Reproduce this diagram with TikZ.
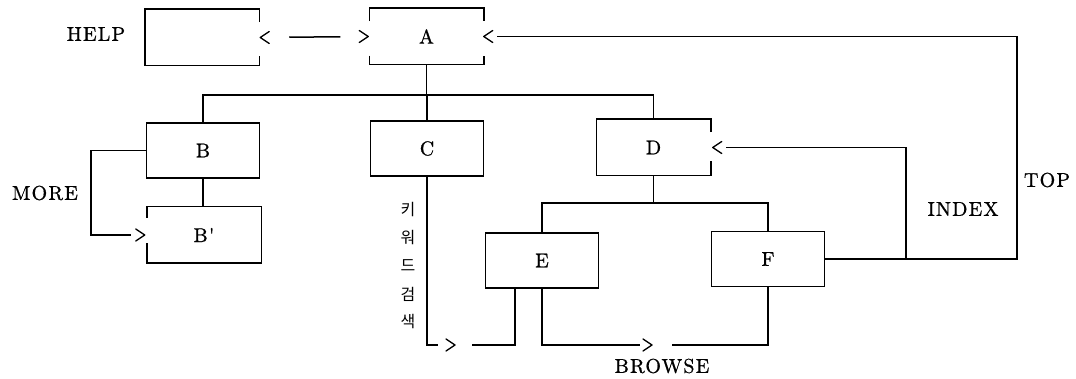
\documentclass[tikz,border=0pt]{standalone}
\usepackage{fontspec}
\newfontfamily\krfont{Noto Sans CJK KR}
\newfontfamily\lblfont{lmroman10-regular.otf}[LetterSpace=6, FakeBold=0.8]

% box outline open on the right side (arg 2/3: lengths of the top/bottom stubs)
\newcommand\outlineR[3]{\draw ([yshift=-#2]#1.north east) -- (#1.north east) -- (#1.north west) -- (#1.south west) -- (#1.south east) -- ([yshift=#3]#1.south east);}
% box outline open on the left side
\newcommand\outlineL[3]{\draw ([yshift=-#2]#1.north west) -- (#1.north west) -- (#1.north east) -- (#1.south east) -- (#1.south west) -- ([yshift=#3]#1.south west);}
% box outline open on both sides
\newcommand\outlineLR[3]{%
  \draw ([yshift=-#2]#1.north west) -- (#1.north west) -- (#1.north east) -- ([yshift=-#2]#1.north east);
  \draw ([yshift=#3]#1.south west) -- (#1.south west) -- (#1.south east) -- ([yshift=#3]#1.south east);}

\begin{document}
\begin{tikzpicture}[x=1pt, y=-1pt, line width=1.5pt,
  txt/.style={font=\lblfont\fontsize{20}{22}\selectfont, inner sep=0pt},
  kr/.style={font=\krfont\fontsize{16}{16}\selectfont, inner sep=0pt},
  box/.style={txt, minimum width=113pt, minimum height=55pt},
  framed/.style={box, draw},
  % open chevrons that sit in front of a box side
  chevL/.pic={\draw[line cap=round, line join=round, line width=1.3pt] (9,-6) -- (0,0) -- (9,6);},
  chevR/.pic={\draw[line cap=round, line join=round, line width=1.3pt] (-9,-6) -- (0,0) -- (-9,6);}]

\useasboundingbox (0,0) rectangle (1076,379);

% screens
\node[box]    (help) at (202,37.5)   {};
\node[box]    (A)    at (426.5,36.5) {A};
\node[framed] (B)    at (203,150.5)  {B};
\node[box]    (Bp)   at (204,235)    {B'};
\node[framed] (C)    at (427,148.5)  {C};
\node[box]    (D)    at (653.5,147.5){D};
\node[framed] (E)    at (542,260.5)  {E};
\node[framed] (F)    at (768,259)    {F};

\outlineR{help}{13pt}{10pt}
\outlineLR{A}{13pt}{9pt}
\outlineL{Bp}{11pt}{20pt}
\outlineR{D}{13pt}{15pt}

% labels
\node[txt] (helpl)   at (96,34)   {HELP};
\node[txt] (morel)   at (45,193)  {MORE};
\node[txt] (topl)    at (1047,180){TOP};
\node[txt] (indexl)  at (963,209) {INDEX};
\node[txt] (browsel) at (662,366) {BROWSE};
\foreach \ch [count=\i] in {키,워,드,검,색}
  \node[kr] (kw\i) at (408,182+28*\i) {\ch};

% helper coordinates
\coordinate (bus)  at (0,95);
\coordinate (bus2) at (0,203);
\coordinate (topx) at (1017,0);
\coordinate (idx)  at (906,0);
\coordinate (kwa)  at (455,345);
\coordinate (kwb)  at (472,345);
\coordinate (bra)  at (652,345);
\coordinate (brb)  at (672,345);

% hierarchy
\draw (A.south) -- (A.south |- bus);
\draw (B.north) |- (D.north |- bus) -- (D.north);
\draw (C.north) -- (C.north |- bus);
\draw (B.south) -- (B.south |- Bp.north);
\draw (D.south) -- (D.south |- bus2);
\draw (E.north) |- (F.north |- bus2) -- (F.north);

% HELP <-> A
\draw[shorten <=29pt, shorten >=28pt] ([xshift=1pt]help.east) -- ([xshift=-1pt]A.west);
\pic at ([xshift=1pt]help.east) {chevL};
\pic at ([xshift=-1pt]A.west) {chevR};
% MORE
\draw[shorten >=14pt] (B.west) -- ++(-55,0) |- ([xshift=-2pt]Bp.west);
\pic at ([xshift=-2pt]Bp.west) {chevR};
% TOP
\draw[shorten >=13pt] (F.east) -- (F.east -| topx) |- (A.east);
\pic at (A.east) {chevL};
% INDEX
\draw[shorten >=13pt] (F.east -| idx) |- ([xshift=2pt]D.east);
\pic at ([xshift=2pt]D.east) {chevL};
% keyword search
\draw[shorten >=17pt] (C.south) |- (kwa);
\pic at (kwa) {chevR};
\draw (kwb) -| ([xshift=-27pt]E.south);
% BROWSE
\draw[shorten >=12pt] (E.south) |- (bra);
\pic at (bra) {chevR};
\draw (brb) -| (F.south);
\end{tikzpicture}
\end{document}
